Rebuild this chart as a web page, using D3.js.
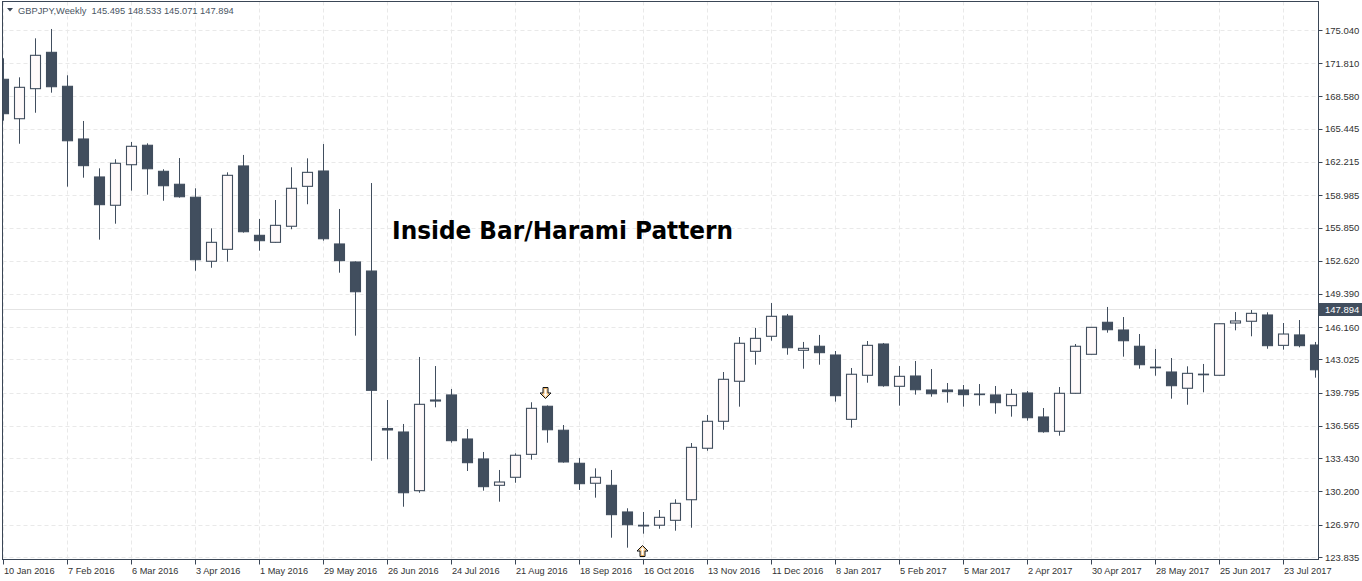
<!DOCTYPE html>
<html><head><meta charset="utf-8">
<script src="https://cdn.jsdelivr.net/npm/d3@7/dist/d3.min.js"></script>
<style>html,body{margin:0;padding:0;background:#fff;} svg{display:block}</style>
</head><body><svg id="c" width="1362" height="581"></svg>
<script>
// ---- data (weekly GBPJPY candles, week of 10 Jan 2016 onwards) ----
const startWeek = "2016-01-10";
const open  = [170.25,166.42,169.34,172.87,169.57,164.45,160.76,158.01,161.95,163.84,161.31,160.05,158.79,152.57,153.73,161.83,155.09,154.41,155.97,159.85,161.34,154.25,152.50,151.62,136.32,135.98,130.28,139.09,139.58,135.30,133.36,130.80,131.58,133.81,138.48,136.15,132.94,131.00,130.80,128.21,126.92,126.92,127.40,129.40,134.40,137.02,140.91,143.82,145.28,147.25,143.92,144.31,143.46,137.21,141.49,144.53,140.42,141.42,140.06,140.06,140.06,139.67,139.58,138.54,139.77,137.44,136.05,139.74,143.53,146.64,145.89,144.31,142.28,141.81,140.23,141.58,141.49,146.57,146.74,147.35,144.40,145.41,144.43];
const high  = [172.29,170.44,174.23,175.14,170.64,166.20,161.60,162.48,164.16,164.03,161.51,162.60,159.66,155.77,161.21,162.90,156.68,158.52,161.70,162.57,163.96,157.65,152.55,160.17,139.09,136.76,143.27,142.39,140.16,136.27,134.04,132.29,133.91,138.87,138.56,136.66,133.45,132.45,132.29,128.57,128.21,128.40,129.44,134.91,137.63,141.81,145.21,146.09,148.51,147.45,144.73,145.41,143.85,142.20,144.82,144.63,142.39,142.88,142.10,140.74,140.55,140.64,140.45,140.16,139.96,138.31,140.35,144.53,146.15,148.13,147.15,145.50,144.05,143.17,142.36,142.59,146.54,147.64,147.83,147.61,146.57,146.86,144.73];
const low   = [166.23,163.99,167.00,168.95,159.82,160.69,154.67,156.22,159.43,159.04,158.45,158.75,151.65,151.94,152.53,155.35,153.60,154.35,155.68,158.11,154.57,151.46,145.34,133.19,133.33,128.72,130.08,138.38,134.94,132.19,130.28,129.21,131.05,133.29,134.94,133.00,130.35,129.60,125.71,124.74,126.10,126.58,126.39,126.68,134.16,136.20,138.44,142.52,144.85,143.49,142.13,142.52,138.93,136.40,140.77,140.38,138.54,139.61,139.41,138.83,138.44,138.54,137.76,137.47,137.08,135.91,135.62,139.70,143.50,145.63,143.30,142.13,141.45,139.22,138.63,139.84,141.45,145.86,145.28,144.07,143.98,144.21,141.26];
const close = [166.91,169.47,172.58,169.53,164.28,161.86,158.07,162.09,163.74,161.56,159.91,158.84,152.72,154.41,160.92,155.44,154.57,156.06,159.66,161.21,154.76,152.63,149.61,140.03,136.18,130.08,138.67,138.99,135.14,133.00,130.67,131.12,133.72,138.28,136.20,133.07,130.96,131.58,127.95,126.97,126.85,127.69,129.05,134.49,137.02,141.10,144.60,145.08,147.22,144.17,144.11,143.69,139.51,141.59,144.40,140.48,141.39,140.09,139.70,139.90,139.61,139.65,138.83,139.64,137.37,136.01,139.74,144.31,146.15,145.92,144.85,142.52,142.26,140.48,141.68,141.60,146.50,146.77,147.51,144.37,145.50,144.37,142.03];
const yTicks = [123.835,126.970,130.200,133.430,136.565,139.795,143.025,146.160,149.390,152.620,155.850,158.985,162.215,165.445,168.580,171.810,175.040];
const xTickLabels = ["10 Jan 2016","7 Feb 2016","6 Mar 2016","3 Apr 2016","1 May 2016","29 May 2016","26 Jun 2016","24 Jul 2016","21 Aug 2016","18 Sep 2016","16 Oct 2016","13 Nov 2016","11 Dec 2016","8 Jan 2017","5 Feb 2017","5 Mar 2017","2 Apr 2017","30 Apr 2017","28 May 2017","25 Jun 2017","23 Jul 2017"];
const lastPrice = 147.894;
const headerSymbol = "GBPJPY,Weekly";
const headerOHLC = "145.495 148.533 145.071 147.894";
const annotation = "Inside Bar/Harami Pattern";
const arrowDownWeek = 34;   // bearish harami signal
const arrowUpWeek = 40;     // bullish signal

// ---- layout ----
const W = 1362, H = 581;
const L = 2.5, R = 1318.5, T = 1.5, B = 559.5;
const dark = "#414e5e";
const svg = d3.select("#c");
const font = "'Liberation Sans', Arial, sans-serif";

const weekDates = open.map((_, i) => d3.timeWeek.offset(new Date(startWeek + "T00:00:00"), i));
const x = d3.scaleTime().domain([weekDates[0], weekDates[weekDates.length - 1]]).range([3, 3 + 16 * (open.length - 1)]);
const y = d3.scaleLinear().domain([123.835, 175.040]).range([557, 30]);
const parseLbl = d3.timeParse("%d %b %Y");

svg.append("rect").attr("width", W).attr("height", H).attr("fill", "#fff");

svg.append("defs").append("clipPath").attr("id", "plot")
  .append("rect").attr("x", L + 0.5).attr("y", T + 0.5).attr("width", R - L - 1).attr("height", B - T - 1);

const grid = svg.append("g");
grid.selectAll("line.h").data(yTicks).join("line")
  .attr("x1", L).attr("x2", R)
  .attr("y1", d => Math.round(y(d)) + 0.5).attr("y2", d => Math.round(y(d)) + 0.5)
  .attr("stroke", "#e9e9e9").attr("stroke-dasharray", "4,3");
grid.selectAll("line.v").data(xTickLabels).join("line")
  .attr("x1", d => Math.round(x(parseLbl(d))) + 0.5).attr("x2", d => Math.round(x(parseLbl(d))) + 0.5)
  .attr("y1", T).attr("y2", B)
  .attr("stroke", "#e9e9e9").attr("stroke-dasharray", "4,3");
grid.append("line").attr("x1", L).attr("x2", R)
  .attr("y1", Math.round(y(lastPrice)) + 0.5).attr("y2", Math.round(y(lastPrice)) + 0.5)
  .attr("stroke", "#e4e4e4");

// candles
const cg = svg.append("g").attr("clip-path", "url(#plot)");
const candles = open.map((o, i) => ({ o, h: high[i], l: low[i], c: close[i], d: weekDates[i] }));
const cnd = cg.selectAll("g.c").data(candles).join("g");
cnd.append("line")
  .attr("x1", d => Math.round(x(d.d)) + 0.5).attr("x2", d => Math.round(x(d.d)) + 0.5)
  .attr("y1", d => y(d.h)).attr("y2", d => y(d.l))
  .attr("stroke", dark).attr("stroke-width", 1);
cnd.append("rect")
  .attr("x", d => Math.round(x(d.d)) - 4.5)
  .attr("width", 10)
  .attr("y", d => y(Math.max(d.o, d.c)))
  .attr("height", d => Math.max(0.6, Math.abs(y(d.o) - y(d.c))))
  .attr("fill", d => d.c > d.o ? "#fffafa" : dark)
  .attr("stroke", dark).attr("stroke-width", 1.1);

// signal arrows
const arrowPath = "M-2.5,0 H2.5 V5.5 H5.5 L0,11 L-5.5,5.5 H-2.5 Z";
const innerPath = "M-1.5,1 H1.5 V6.5 H3.2 L0,9.6 L-3.2,6.5 H-1.5 Z";
const ag = svg.append("g");
function arrow(tr) {
  ag.append("path").attr("d", innerPath).attr("transform", tr)
    .attr("fill", "#fff").attr("stroke", "#f0a030").attr("stroke-width", 0.8);
  ag.append("path").attr("d", arrowPath).attr("transform", tr)
    .attr("fill", "none").attr("stroke", "#111").attr("stroke-width", 1);
}
const dn = candles[arrowDownWeek];
arrow(`translate(${Math.round(x(dn.d)) - 1.5},${Math.round(y(dn.h)) - 17.5})`);
const up = candles[arrowUpWeek];
arrow(`translate(${Math.round(x(up.d)) - 0.5},${Math.round(y(up.l)) + 22.5}) scale(1,-1)`);

// frame
svg.append("rect").attr("x", L).attr("y", T).attr("width", R - L).attr("height", B - T)
  .attr("fill", "none").attr("stroke", "#3a4656").attr("stroke-width", 1);

// right axis
const ya = svg.append("g");
ya.selectAll("line").data(yTicks).join("line")
  .attr("x1", R).attr("x2", R + 4)
  .attr("y1", d => Math.round(y(d)) + 0.5).attr("y2", d => Math.round(y(d)) + 0.5)
  .attr("stroke", "#3a4656");
ya.selectAll("text").data(yTicks).join("text")
  .attr("x", 1325).attr("y", d => y(d) + 3.5)
  .attr("font-family", font).attr("font-size", 9.5).attr("fill", "#333")
  .text(d => d3.format(".3f")(d));
const lp = y(lastPrice);
ya.append("rect").attr("x", R + 0.5).attr("y", Math.round(lp) - 6).attr("width", W - R).attr("height", 13).attr("fill", dark);
ya.append("text").attr("x", 1325).attr("y", lp + 3.5)
  .attr("font-family", font).attr("font-size", 9.5).attr("fill", "#fff").text(d3.format(".3f")(lastPrice));

// bottom axis
const xa = svg.append("g");
xa.selectAll("line").data(xTickLabels).join("line")
  .attr("x1", d => Math.round(x(parseLbl(d))) + 0.5).attr("x2", d => Math.round(x(parseLbl(d))) + 0.5)
  .attr("y1", B).attr("y2", B + 5).attr("stroke", "#3a4656");
xa.selectAll("text").data(xTickLabels).join("text")
  .attr("x", d => Math.round(x(parseLbl(d))) + 1).attr("y", 574)
  .attr("font-family", font).attr("font-size", 9.2).attr("fill", "#333")
  .text(d => d);

// header
svg.append("path").attr("d", "M7,8 H13 L10,11.5 Z").attr("fill", "#3a4656");
svg.append("text").attr("x", 18).attr("y", 14)
  .attr("font-family", font).attr("font-size", 9.3).attr("fill", "#4a5563")
  .attr("xml:space", "preserve")
  .text(headerSymbol + "  " + headerOHLC);

// annotation
svg.append("text").attr("x", 392).attr("y", 239)
  .attr("font-family", "'DejaVu Sans', Verdana, sans-serif").attr("font-weight", "bold")
  .attr("font-size", 24).attr("fill", "#000")
  .attr("textLength", 341).attr("lengthAdjust", "spacingAndGlyphs")
  .text(annotation);
</script></body></html>
